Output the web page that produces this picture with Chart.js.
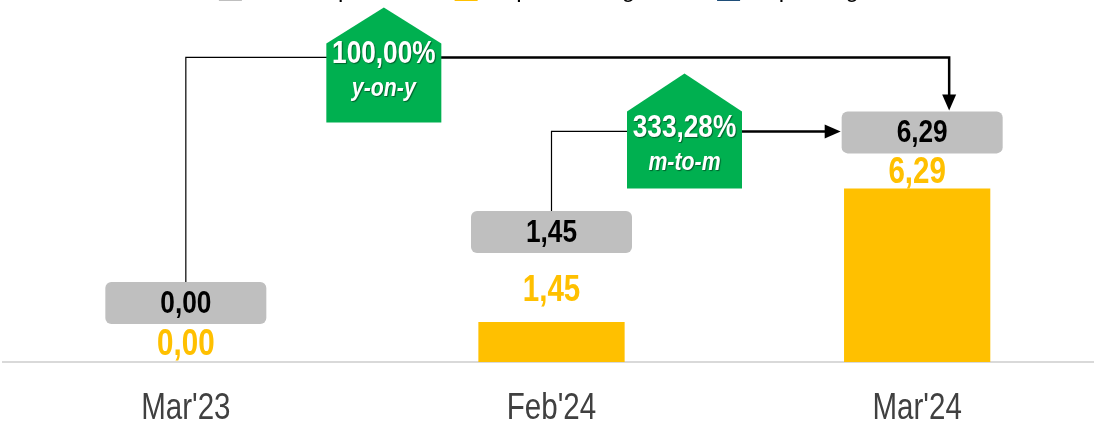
<!DOCTYPE html>
<html>
<head>
<meta charset="utf-8">
<script src="https://cdn.jsdelivr.net/npm/chart.js@4.4.1/dist/chart.umd.min.js"></script>
<style>
  html, body { margin: 0; padding: 0; background: #fff; }
  #wrap { position: relative; width: 1094px; height: 424px; overflow: hidden; }
  #chart { position: absolute; left: 0; top: -32px; }
</style>
</head>
<body>
<div id="wrap"><canvas id="chart" width="1100" height="460"></canvas></div>
<script>
// data
const categories = ["Mar'23", "Feb'24", "Mar'24"];
const seriesNames = ['Total Impor Modal', 'Impor Barang Modal', 'Impor Migas'];
const totalValues = [0, 1.45, 6.29];
const barangValues = [0, 1.45, 6.29];
const migasValues = [0, 0, 0];
const growthValues = [100.00, 333.28];
const growthNames = ['y-on-y', 'm-to-m'];

const FONT = "'Liberation Sans', Arial, sans-serif";
const NARROW = 0.82; // tiru Arial Narrow
const fmt = (v) => v.toFixed(2).replace('.', ',');

// teks sempit (skala horizontal)
const narrowText = (ctx, text, x, y, font, color) => {
    ctx.save();
    ctx.font = font;
    ctx.fillStyle = color;
    ctx.textAlign = 'center';
    ctx.textBaseline = 'middle';
    ctx.translate(x, y);
    ctx.scale(NARROW, 1);
    ctx.fillText(text, 0, 0);
    ctx.restore();
};

const roundRect = (ctx, x, y, w, h, r) => {
    ctx.beginPath();
    ctx.moveTo(x + r, y);
    ctx.arcTo(x + w, y, x + w, y + h, r);
    ctx.arcTo(x + w, y + h, x, y + h, r);
    ctx.arcTo(x, y + h, x, y, r);
    ctx.arcTo(x, y, x + w, y, r);
    ctx.closePath();
};

// bentuk rumah hijau untuk label pertumbuhan
const drawHouse = (ctx, cx, peak, shoulder, bottom, w, value, name, lineY) => {
    ctx.save();
    ctx.fillStyle = '#00B050';
    ctx.beginPath();
    ctx.moveTo(cx, peak);
    ctx.lineTo(cx + w / 2, shoulder);
    ctx.lineTo(cx + w / 2, bottom);
    ctx.lineTo(cx - w / 2, bottom);
    ctx.lineTo(cx - w / 2, shoulder);
    ctx.closePath();
    ctx.fill();
    ctx.shadowColor = 'rgba(0,0,0,0.45)';
    ctx.shadowOffsetX = 1;
    ctx.shadowOffsetY = 1;
    ctx.shadowBlur = 1;
    narrowText(ctx, fmt(value) + '%', cx, lineY - 3, 'bold 32px ' + FONT, '#fff');
    narrowText(ctx, name, cx, lineY + 31, 'italic bold 26px ' + FONT, '#fff');
    ctx.restore();
};

const arrowHead = (ctx, x, y, dir) => {
    ctx.beginPath();
    if (dir === 'down') {
        ctx.moveTo(x, y);
        ctx.lineTo(x - 7, y - 16);
        ctx.lineTo(x + 7, y - 16);
    } else {
        ctx.moveTo(x, y);
        ctx.lineTo(x - 16, y - 7);
        ctx.lineTo(x - 16, y + 7);
    }
    ctx.closePath();
    ctx.fill();
};

const annotations = {
    id: 'annotations',
    afterDatasetsDraw(chart) {
        const ctx = chart.ctx;
        const x = chart.scales.x;
        const y = chart.scales.y;
        const xs = categories.map((c, i) => x.getPixelForValue(i));
        const base = y.getPixelForValue(0);

        // label kategori
        categories.forEach((c, i) => {
            narrowText(ctx, c, xs[i], base + 47, '36px ' + FONT, '#404040');
        });

        // label kuning di atas batang
        const labelLift = [17, 31, 15];
        barangValues.forEach((v, i) => {
            narrowText(ctx, fmt(v), xs[i], y.getPixelForValue(v) - labelLift[i], 'bold 36px ' + FONT, '#FFC000');
        });

        // kotak abu-abu (total)
        const boxLift = [59, 90, 56];
        const boxShift = [0, 0, 5];
        const bw = 161, bh = 42;
        const boxes = totalValues.map((v, i) => ({
            cx: xs[i] + boxShift[i],
            cy: y.getPixelForValue(v) - boxLift[i]
        }));

        // garis panah y-on-y
        const b0 = boxes[0], b1 = boxes[1], b2 = boxes[2];
        const yoyY = b2.cy - bh / 2 - 54;
        const yoyX = xs[0] + 198;
        const downX = b2.cx + 27;
        ctx.save();
        ctx.strokeStyle = '#000';
        ctx.fillStyle = '#000';
        ctx.lineWidth = 1.2;
        ctx.beginPath();
        ctx.moveTo(b0.cx, b0.cy - bh / 2);
        ctx.lineTo(b0.cx, yoyY);
        ctx.lineTo(yoyX, yoyY);
        ctx.stroke();
        ctx.lineWidth = 2.5;
        ctx.beginPath();
        ctx.moveTo(yoyX, yoyY);
        ctx.lineTo(downX, yoyY);
        ctx.lineTo(downX, b2.cy - bh / 2 - 12);
        ctx.stroke();
        arrowHead(ctx, downX, b2.cy - bh / 2 - 1, 'down');

        // garis panah m-to-m
        const mtmY = b2.cy - 1;
        const mtmX = xs[1] + 133;
        ctx.lineWidth = 1.2;
        ctx.beginPath();
        ctx.moveTo(b1.cx, b1.cy - bh / 2);
        ctx.lineTo(b1.cx, mtmY);
        ctx.lineTo(mtmX, mtmY);
        ctx.stroke();
        ctx.lineWidth = 2.5;
        ctx.beginPath();
        ctx.moveTo(mtmX, mtmY);
        ctx.lineTo(b2.cx - bw / 2 - 12, mtmY);
        ctx.stroke();
        arrowHead(ctx, b2.cx - bw / 2 - 1, mtmY, 'right');
        ctx.restore();

        drawHouse(ctx, yoyX, yoyY - 50, yoyY - 14, yoyY + 65, 115, growthValues[0], growthNames[0], yoyY);
        drawHouse(ctx, mtmX, mtmY - 58, mtmY - 20, mtmY + 57, 115, growthValues[1], growthNames[1], mtmY);

        boxes.forEach((b, i) => {
            ctx.save();
            ctx.fillStyle = '#BFBFBF';
            roundRect(ctx, b.cx - bw / 2, b.cy - bh / 2, bw, bh, 6);
            ctx.fill();
            ctx.restore();
            narrowText(ctx, fmt(totalValues[i]), b.cx, b.cy + 1, 'bold 32px ' + FONT, '#000');
        });
    }
};

new Chart(document.getElementById('chart'), {
    type: 'bar',
    data: {
        labels: categories,
        datasets: [
            {
                type: 'line',
                label: seriesNames[0],
                data: totalValues,
                showLine: false,
                pointRadius: 0,
                backgroundColor: '#BFBFBF',
                borderColor: '#BFBFBF',
                borderWidth: 0
            },
            {
                label: seriesNames[1],
                data: barangValues,
                backgroundColor: '#FFC000',
                grouped: false,
                barPercentage: 0.4,
                categoryPercentage: 1
            },
            {
                label: seriesNames[2],
                data: migasValues,
                backgroundColor: '#1F4E79',
                grouped: false,
                barPercentage: 0.4,
                categoryPercentage: 1
            }
        ]
    },
    options: {
        responsive: false,
        animation: false,
        layout: { padding: { left: 3, top: 0, bottom: 66 } },
        plugins: {
            tooltip: { enabled: false },
            legend: {
                position: 'top',
                labels: {
                    boxWidth: 23,
                    boxHeight: 22,
                    color: '#000',
                    font: { family: FONT, size: 24 }
                }
            }
        },
        scales: {
            x: {
                grid: { display: false, drawTicks: false },
                border: { color: '#D9D9D9', width: 2 },
                ticks: { display: false }
            },
            y: {
                display: false,
                min: 0,
                max: 12.68
            }
        }
    },
    plugins: [annotations]
});
</script>
</body>
</html>
